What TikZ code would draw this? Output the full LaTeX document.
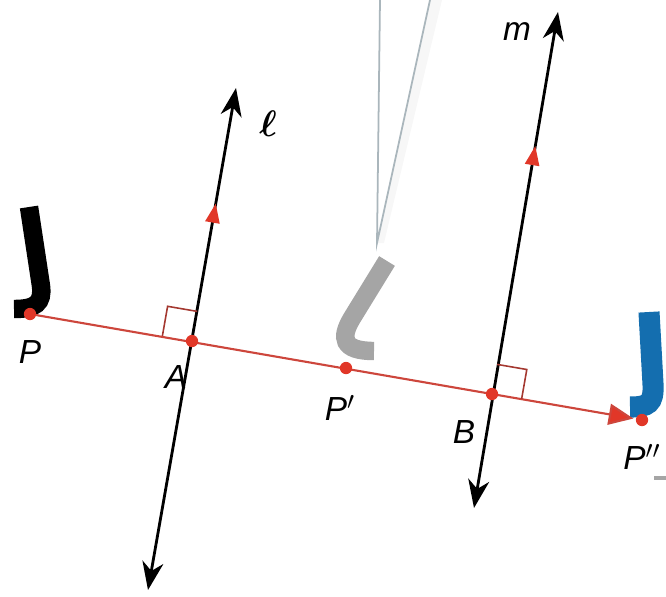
\documentclass[tikz,border=0pt]{standalone}
\usepackage{amsmath,amssymb}
\usepackage{bm}
\usepackage{fontspec}
\setmainfont{Liberation Sans}
\usetikzlibrary{arrows.meta,decorations.markings,calc}
\definecolor{myred}{RGB}{225,55,40}
\definecolor{linered}{RGB}{205,70,60}
\definecolor{jblue}{RGB}{20,110,175}
\definecolor{jgray}{RGB}{165,165,165}
\definecolor{vgray}{RGB}{170,182,188}
\begin{document}
\begin{tikzpicture}[x=0.02cm,y=-0.02cm,
  blackline/.style={line width=1.6pt,black,
    {Stealth[length=16pt,width=12pt,inset=5pt]}-{Stealth[length=16pt,width=12pt,inset=5pt]}},
  redline/.style={line width=1.2pt,linered},
  rmark/.style={line width=0.9pt,linered!80!black},
  dot/.style={circle,fill=myred,inner sep=0pt,minimum size=7pt},
  lbl/.style={font=\fontsize{19}{22}\selectfont\itshape,inner sep=0pt},
  jstroke/.style={line width=10.5pt}]
\useasboundingbox (0,0) rectangle (666,596);
% gray wedge at the top
\fill[gray!6] (430,0) -- (377,243) -- (384,243) -- (442,0) -- cycle;
\draw[vgray,line width=1pt] (380,0) -- (377,243) -- (430,0);
% points
\coordinate (P) at (30,314);
\coordinate (A) at (192,341);
\coordinate (Pp) at (346,368);
\coordinate (B) at (492,394);
\coordinate (Ppp) at (642,420);
\coordinate (lbot) at (148,590);
\coordinate (ltop) at (236,88);
\coordinate (mbot) at (474,508);
\coordinate (mtop) at (558,12);
% J letters
\draw[jstroke,black] (29,207) -- (41,286) .. controls (43,303) and (36,309) .. (14,309);
\draw[jstroke,jgray] (387,261) -- (352,318) .. controls (340,338) and (342,351) .. (374,351);
\draw[line width=12pt,jblue] (649,312) -- (653,384) .. controls (654,404) and (648,407) .. (630,407);
\draw[jgray,line width=2.5pt] (654,478) -- (666,478);
% lines l and m
\draw[blackline,postaction={decorate},decoration={markings,
  mark=at position 0.77 with {\arrow[myred]{Triangle[length=11pt,width=8pt]}}}] (lbot) -- (ltop);
\draw[blackline,postaction={decorate},decoration={markings,
  mark=at position 0.73 with {\arrow[myred]{Triangle[length=11pt,width=8pt]}}}] (mbot) -- (mtop);
% red line
\draw[redline,-{Triangle[length=14pt,width=12pt,fill=myred]},shorten >=5pt] (P) -- (Ppp);
% right angle marks
\draw[rmark] (A) ++(-29.6,-5.1) -- ++(5.2,-29.6) -- ++(29.6,5.1);
\draw[rmark] (B) ++(29.6,5.1) -- ++(5.2,-29.6) -- ++(-29.6,-5.1);
% dots
\foreach \n in {P,A,Pp,B,Ppp} \node[dot] at (\n) {};
% labels
\node[lbl] (tP) at (30,352) {P};
\node[lbl] (tA) at (176,377) {A};
\node[lbl] (tPp) at (340,408) {P$'$};
\node[lbl] (tB) at (464,432) {B};
\node[lbl] (tPpp) at (642,457) {P$''$};
\node[inner sep=0pt] (tl) at (268,124) {\scalebox{2.1}{$\bm{\ell}$}};
\node[lbl] (tm) at (517,32) {m};
\end{tikzpicture}
\end{document}
